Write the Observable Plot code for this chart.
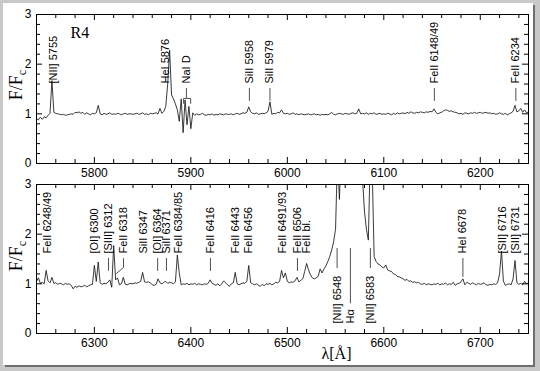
<!DOCTYPE html>
<html><head><meta charset="utf-8">
<script src="https://cdn.jsdelivr.net/npm/d3@7"></script>
<script src="https://cdn.jsdelivr.net/npm/@observablehq/plot@0.6"></script>
<style>
html,body{margin:0;padding:0;background:#fff;}
#wrap{position:relative;width:540px;height:371px;background:#c8c8c8;overflow:hidden;}
#paper{position:absolute;left:3px;top:3px;width:530px;height:362px;background:#fff;box-shadow:2px 2px 0 #6e6e6e;}
#wrap svg{position:absolute;left:0;overflow:visible;}
</style></head><body>
<div id="wrap"><div id="paper"></div></div>
<script>
// ---- data ----
const step = 2;
const topStart = 5740;
const botStart = 6240;
const topFlux = [
 0.90,0.88,0.93,0.89,0.94,0.92,0.97,1.01,1.67,1.03,
 1.01,1.00,0.99,0.98,0.99,0.97,0.98,0.99,1.00,0.99,
 1.03,1.02,1.04,1.01,1.03,0.99,1.02,1.00,0.98,1.01,
 1.00,1.02,1.17,1.00,0.98,1.01,0.99,1.00,1.02,0.99,
 1.00,0.99,1.01,1.00,0.98,1.00,1.01,0.99,1.00,1.00,
 0.99,1.00,1.01,0.99,1.00,1.02,0.99,1.00,0.98,1.01,
 1.00,1.01,1.02,1.00,1.11,1.01,1.05,1.15,1.60,2.28,
 1.38,1.30,1.20,1.08,0.85,1.30,0.62,1.28,0.78,1.15,
 0.70,1.02,0.97,1.00,0.98,0.99,1.01,0.98,0.97,0.99,
 0.98,1.00,0.97,0.99,0.98,1.00,0.99,0.98,1.00,0.99,
 0.99,1.00,0.98,1.00,1.01,0.99,1.00,1.02,1.01,1.03,
 1.14,1.04,1.01,1.00,1.02,0.99,1.00,1.01,1.00,1.02,
 1.05,1.24,0.99,1.01,1.00,1.03,1.02,1.08,1.01,1.00,
 1.01,0.99,1.00,1.02,0.99,1.00,0.98,1.00,0.99,0.98,
 0.99,1.00,0.98,0.99,1.00,0.98,0.99,0.97,0.99,0.98,
 0.99,0.98,1.00,1.03,0.99,0.98,1.00,1.01,1.00,0.99,
 1.01,1.00,0.99,1.01,1.02,1.00,1.01,1.10,1.00,1.01,
 1.00,1.02,0.99,1.01,1.00,1.02,0.99,1.00,1.01,0.99,
 1.00,0.99,1.01,1.00,0.98,1.01,0.99,1.02,1.00,1.01,
 1.02,1.00,1.03,1.01,1.04,1.02,1.01,1.03,1.02,1.04,
 1.03,1.02,1.04,1.03,1.05,1.04,1.10,1.03,1.00,1.02,
 1.03,1.06,1.08,1.07,1.05,1.06,1.04,1.03,1.02,1.00,
 1.01,0.99,1.02,1.01,1.00,1.02,1.01,1.03,1.01,1.02,
 1.03,1.01,1.02,1.03,1.01,1.02,1.00,1.01,0.99,1.00,
 1.02,1.00,0.99,1.01,0.98,1.00,1.02,1.05,1.17,1.04,
 1.06,1.11,1.03,1.08,1.02,1.04
];
const botFlux = [
 1.05,1.12,1.01,1.03,1.00,1.27,1.06,1.02,1.13,1.01,
 1.02,0.99,1.01,1.00,0.98,1.01,0.99,1.00,0.97,0.90,
 0.95,0.93,0.96,0.94,0.95,0.97,0.94,0.96,0.98,0.99,
 1.37,1.05,1.44,1.02,0.99,1.01,1.00,1.03,1.08,0.93,
 1.77,1.08,1.12,0.98,1.00,1.13,0.99,0.98,1.00,1.01,
 1.00,1.02,1.01,1.03,1.05,1.23,1.04,1.03,1.04,1.02,
 0.98,0.97,0.99,1.10,1.02,1.00,1.03,1.05,1.01,1.03,
 1.02,1.00,1.04,1.58,1.22,0.98,1.00,0.99,1.01,0.98,
 1.00,0.99,1.01,0.98,1.00,0.99,0.98,1.00,0.99,1.01,
 1.08,1.01,0.99,0.97,1.00,0.96,1.00,1.06,1.02,0.98,
 0.95,1.00,1.02,1.23,1.00,0.98,1.00,1.02,1.01,1.05,
 1.37,1.02,1.00,0.98,1.00,0.97,0.95,0.99,0.96,1.00,
 0.99,1.01,0.98,1.00,1.03,1.02,1.05,1.27,1.12,1.22,
 1.05,1.02,1.04,1.03,1.06,1.13,1.04,1.07,1.10,1.25,
 1.41,1.28,1.18,1.12,1.10,1.12,1.15,1.30,1.22,1.30,
 1.36,1.45,1.55,1.68,1.85,2.10,3.60,2.70,3.80,5.00,
 8.0,12.0,15.0,16.0,14.0,10.0,7.0,5.0,3.8,3.1,
 2.45,2.10,1.88,3.60,3.30,1.55,1.45,1.40,1.38,1.34,
 1.32,1.38,1.28,1.26,1.25,1.20,1.19,1.15,1.14,1.12,
 1.10,1.07,1.09,1.05,1.06,1.03,1.04,1.02,1.03,1.00,
 0.99,1.01,0.98,1.00,0.99,0.98,1.00,0.99,1.01,0.98,
 1.00,0.99,1.02,0.98,1.00,0.99,1.03,0.97,1.00,1.01,
 1.04,1.10,0.98,1.03,1.01,0.99,1.02,1.00,0.98,1.01,
 0.99,1.00,1.02,0.98,0.97,0.99,0.98,1.00,0.99,1.02,
 1.20,1.66,1.05,0.97,0.99,1.00,0.98,1.10,1.47,1.02,
 0.99,1.01,0.98,1.05,1.00,1.02
];
const topTicks = [5800, 5900, 6000, 6100, 6200];
const botTicks = [6300, 6400, 6500, 6600, 6700];
const yTicks = [0, 1, 2, 3];

// line identifications (label text, wavelength where it is drawn)
const topLabels = ["[NII] 5755", "HeI 5876", "NaI D", "SiII 5958", "SiII 5979", "FeII 6148/49", "FeII 6234"];
const topLabelWave = [5757.6, 5873.7, 5895.4, 5960.7, 5982.0, 6152.4, 6236.9];
const topLeaderWave = [5895.4, 5960.7, 5982.0, 6152.4, 6236.9];
const naDWave = [5892.5, 5899.8];

const botLabels = ["FeII 6248/49", "[OI] 6300", "[SIII] 6312", "FeII 6318", "SiII 6347", "[OI] 6364", "SiII 6371",
  "FeII 6384/85", "FeII 6416", "FeII 6443", "FeII 6456", "FeII 6491/93", "FeII 6506", "FeII bl.",
  "HeI 6678", "[SII] 6716", "[SII] 6731"];
const botLabelWave = [6251.1, 6300.4, 6314.6, 6330.2, 6350.6, 6365.6, 6374.7,
  6387.5, 6420.3, 6446.2, 6460.0, 6495.2, 6510.5, 6519.8,
  6682.0, 6722.6, 6736.4];
const botLeaderWave = [6314.6, 6365.6, 6374.7, 6420.3, 6510.5];
const fe6318Wave = [6330.2, 6322.9];
const heI6678Wave = [6682.0];
const lowLabels = ["[NII] 6548", "Hα", "[NII] 6583"];
const lowLabelWave = [6551.6, 6565.4, 6586.1];

// ---- drawing ----
const SANS = "'Liberation Sans', Arial, Helvetica, sans-serif";
const SERIF = "'Liberation Serif', 'Times New Roman', serif";
const span = 510, iw = 492, ih = 149;
const yMinor = d3.range(1, 15).map(i => i / 5).filter(v => !Number.isInteger(v));

function panel(cfg) {
  const data = cfg.flux.map((f, i) => ({w: cfg.start + i * step, f}));
  const minor = d3.range(cfg.start + 20, cfg.start + span, 20).filter(v => !cfg.ticks.includes(v));
  const tickStyle = {stroke: "#000", strokeWidth: 1};
  const marks = [
    Plot.line(data, {x: "w", y: "f", clip: true, stroke: "#161616", strokeWidth: 0.85}),
    Plot.frame({stroke: "#000"}),
    Plot.ruleX(cfg.ticks, {x: d => d, insetTop: ih - 6, ...tickStyle}),
    Plot.ruleX(minor, {x: d => d, insetTop: ih - 4, ...tickStyle}),
    Plot.ruleX(cfg.ticks, {x: d => d, insetBottom: ih - 6, ...tickStyle}),
    Plot.ruleX(minor, {x: d => d, insetBottom: ih - 4, ...tickStyle}),
    Plot.ruleY(yTicks, {y: d => d, insetRight: iw - 6, ...tickStyle}),
    Plot.ruleY(yMinor, {y: d => d, insetRight: iw - 4, ...tickStyle}),
    Plot.ruleY(yTicks, {y: d => d, insetLeft: iw - 6, ...tickStyle}),
    Plot.ruleY(yMinor, {y: d => d, insetLeft: iw - 4, ...tickStyle}),
    Plot.axisX(cfg.ticks, {tickSize: 0, tickPadding: 5, tickFormat: d => String(d), fontSize: 12, label: null}),
    Plot.axisY(yTicks, {tickSize: 0, tickPadding: 5, tickFormat: d => String(d), fontSize: 12, label: null}),
    Plot.text(cfg.labels, {x: (d, i) => cfg.labelWave[i], y: 1.61, text: d => d, rotate: -90,
      textAnchor: "start", lineAnchor: "middle", fontSize: 11, fill: "#000"}),
    Plot.ruleX(cfg.leaders, {x: d => d, y1: 1.51, y2: 1.25, stroke: "#222", strokeWidth: 0.8}),
    ...(cfg.extra || [])
  ];
  const svg = Plot.plot({
    width: 540, height: cfg.height,
    marginLeft: 36, marginRight: 12, marginTop: cfg.mt, marginBottom: cfg.mb,
    x: {domain: [cfg.start, cfg.start + span], label: null},
    y: {domain: [0, 3], label: null},
    style: {fontFamily: SANS, fontSize: "12px", background: "transparent", color: "#000", overflow: "visible"},
    marks
  });
  const t = d3.select(svg).append("text")
    .attr("transform", `translate(22,${cfg.ylabY}) rotate(-90)`)
    .attr("text-anchor", "middle")
    .attr("font-family", SERIF).attr("font-size", 18).attr("fill", "#000");
  t.append("tspan").text("F/F");
  t.append("tspan").attr("font-size", 12).attr("dy", 4).text("c");
  svg.style.top = cfg.top + "px";
  document.getElementById("wrap").appendChild(svg);
}

// top panel
panel({
  start: topStart, flux: topFlux, ticks: topTicks, height: 180, mt: 14, mb: 17, top: 0, ylabY: 85,
  labels: topLabels, labelWave: topLabelWave, leaders: topLeaderWave.filter(w => w !== 5895.4),
  extra: [
    Plot.ruleX([topLeaderWave[0]], {x: d => d, y1: 1.51, y2: 1.31, stroke: "#222", strokeWidth: 0.8}),
    Plot.line([
      {w: naDWave[0], v: 1.21}, {w: naDWave[0], v: 1.31}, {w: naDWave[1], v: 1.31}, {w: naDWave[1], v: 1.21}
    ], {x: "w", y: "v", stroke: "#222", strokeWidth: 0.8}),
    Plot.text(["R4"], {frameAnchor: "top-left", dx: 34, dy: 18, textAnchor: "start", lineAnchor: "middle",
      fontFamily: SERIF, fontSize: 16, fill: "#000"})
  ]
});

// bottom panel
panel({
  start: botStart, flux: botFlux, ticks: botTicks, height: 201, mt: 14, mb: 38, top: 170, ylabY: 86,
  labels: botLabels, labelWave: botLabelWave, leaders: botLeaderWave,
  extra: [
    Plot.line([
      {w: fe6318Wave[0], v: 1.51}, {w: fe6318Wave[0], v: 1.33}, {w: fe6318Wave[1], v: 1.21}
    ], {x: "w", y: "v", stroke: "#222", strokeWidth: 0.8}),
    Plot.ruleX(heI6678Wave, {x: d => d, y1: 1.51, y2: 1.13, stroke: "#222", strokeWidth: 0.8}),
    Plot.text(lowLabels, {x: (d, i) => lowLabelWave[i], y: 0.20, text: d => d, rotate: -90,
      textAnchor: "start", lineAnchor: "middle", fontSize: 11, fill: "#000"}),
    Plot.ruleX([lowLabelWave[0], lowLabelWave[2]], {x: d => d, y1: 1.71, y2: 1.31, stroke: "#222", strokeWidth: 0.8}),
    Plot.ruleX([lowLabelWave[1]], {x: d => d, y1: 1.71, y2: 0.60, stroke: "#222", strokeWidth: 0.8}),
    Plot.text(["λ[Å]"], {frameAnchor: "bottom", dx: 54, dy: 20, lineAnchor: "middle",
      fontFamily: SERIF, fontSize: 16, fill: "#000"})
  ]
});
</script></body></html>
